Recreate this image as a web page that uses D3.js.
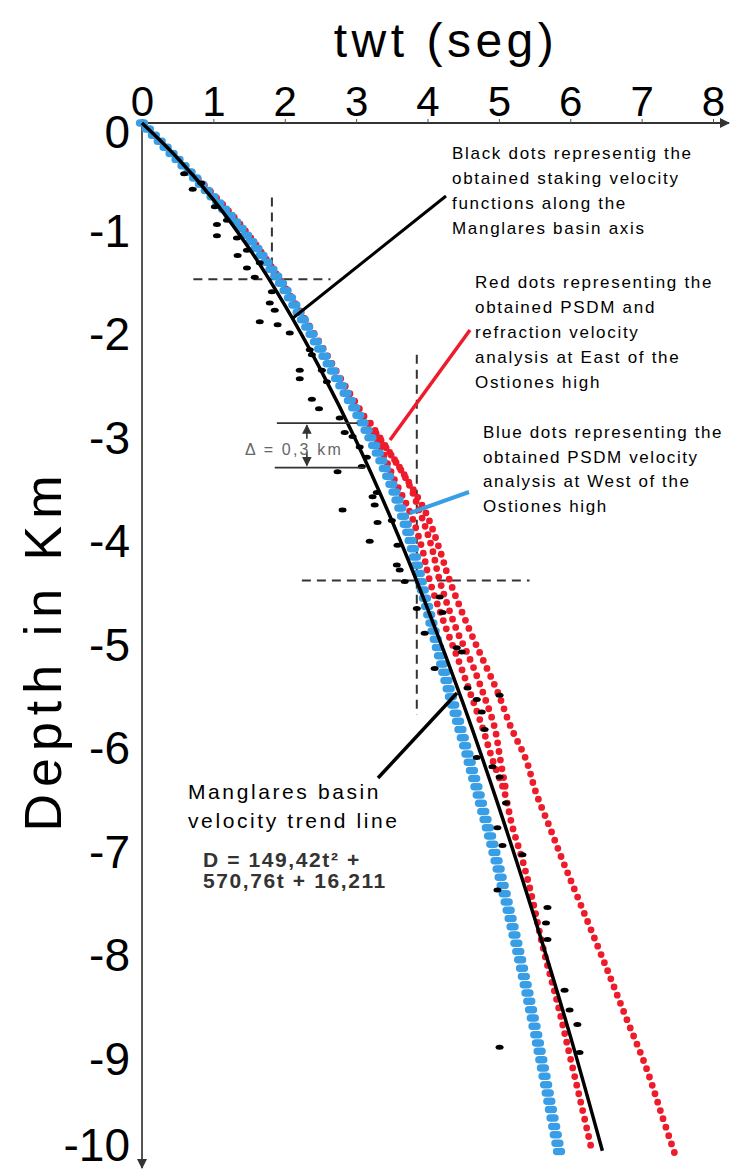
<!DOCTYPE html>
<html>
<head>
<meta charset="utf-8">
<script src="https://cdn.jsdelivr.net/npm/d3@7"></script>
<style>
  body { margin: 0; background: #fff; }
  svg { display: block; }
</style>
</head>
<body>
<svg width="733" height="1173"></svg>
<script>
// axis ticks
const tTicks = [0, 1, 2, 3, 4, 5, 6, 7, 8];
const depthTicks = [0, -1, -2, -3, -4, -5, -6, -7, -8, -9, -10];

// Manglares basin velocity trend line (twt, depth km)
const trendT = [0, 0.5, 1, 1.5, 2, 2.5, 3, 3.5, 4, 4.5, 5, 5.5, 6, 6.45];
const trendD = [0, -0.34, -0.74, -1.21, -1.76, -2.38, -3.07, -3.84, -4.69, -5.61, -6.61, -7.68, -8.82, -9.93];

// blue dots: PSDM West of Ostiones high
const blueD = [0, -0.5, -1, -1.5, -2, -2.5, -3, -3.5, -4, -4.5, -5, -5.5, -6, -6.5, -7, -7.5, -8, -8.5, -9, -9.5, -10];
const blueT = [0, 0.7, 1.36, 1.9, 2.34, 2.76, 3.17, 3.5, 3.75, 3.93, 4.12, 4.31, 4.52, 4.72, 4.92, 5.1, 5.27, 5.43, 5.58, 5.72, 5.86];

// red dots: PSDM + refraction East of Ostiones high (three traces)
const red1D = [0, -1, -2, -2.5, -3, -3.45, -3.77, -4.1, -4.42, -4.9, -5.22, -5.51, -5.84, -6.15, -6.47, -6.8, -7.12, -7.44, -8, -8.5, -9, -9.5, -9.95];
const red1T = [0, 1.4, 2.38, 2.81, 3.25, 3.54, 3.76, 3.92, 4.03, 4.27, 4.45, 4.6, 4.77, 4.91, 5.08, 5.19, 5.33, 5.45, 5.63, 5.82, 5.99, 6.16, 6.31];
const red2D = [-3, -3.45, -3.77, -4.1, -4.42, -4.9, -5.22, -5.51, -5.84, -6.15, -6.45];
const red2T = [3.28, 3.71, 3.9, 4.06, 4.17, 4.41, 4.62, 4.78, 4.94, 5.02, 5.1];
const red3D = [-2.9, -3.13, -3.45, -3.77, -4.1, -4.42, -4.9, -5.22, -5.51, -5.84, -6.15, -6.47, -6.8, -7.12, -7.44, -8.15, -8.64, -9.12, -9.6, -9.95];
const red3T = [3.2, 3.42, 3.72, 3.98, 4.16, 4.31, 4.59, 4.8, 4.99, 5.17, 5.38, 5.52, 5.71, 5.89, 6.08, 6.5, 6.78, 7.06, 7.29, 7.46];

// black dots: stacking velocity functions
const stackT = [0.59, 0.71, 0.83, 1.02, 1.05, 1.05, 1.19, 1.33, 1.34, 1.47, 1.47, 1.65, 1.58, 1.82, 1.79, 1.86,
  1.65, 1.9, 2.07, 2.35, 2.38, 2.21, 2.21, 2.52, 2.59, 2.38, 2.48, 2.77, 2.84, 2.95, 3.05, 3.15, 2.74, 3.08, 3.29, 2.81, 3.23,
  3.26, 3.3, 3.19, 3.5, 3.58, 3.57, 3.61, 3.68, 3.85, 3.96, 4.17, 4.21, 4.41, 4.48,
  4.1, 4.56, 4.69, 5.01, 4.76, 4.8, 4.69, 4.91, 5.01, 5.1, 4.98, 5.05, 5.33, 4.98, 5.68,
  5.66, 5.68, 5.92, 5.99, 6.1, 6.13, 5.01];
const stackD = [-0.49, -0.64, -0.58, -0.81, -0.98, -1.09, -0.94, -1.11, -1.28, -1.23, -1.4, -1.35, -1.49, -1.63, -1.74, -1.81,
  -1.92, -1.95, -2.03, -2.19, -2.24, -2.39, -2.47, -2.39, -2.5, -2.67, -2.76, -2.85, -2.99, -3.03, -3.13, -3.23, -3.37, -3.32, -3.57, -3.74, -3.61,
  -3.69, -3.86, -4.04, -3.84, -4.08, -4.27, -4.32, -4.43, -4.69, -4.93, -4.58, -4.73, -5.07, -5.11,
  -5.27, -5.46, -5.57, -5.53, -5.69, -5.86, -6.13, -6.22, -6.32, -6.57, -6.81, -6.98, -7.07, -7.41, -7.58,
  -7.73, -7.89, -8.38, -8.57, -8.71, -8.98, -8.93];

const svg = d3.select("svg");
const x = d3.scaleLinear().domain([0, 8]).range([142, 713]);
const y = d3.scaleLinear().domain([0, -10]).range([123, 1158]);
const font = "'Liberation Sans', Arial, sans-serif";

const zip = (ts, ds) => ts.map((t, i) => [t, ds[i]]);
const line = d3.line().x(d => x(d[0])).y(d => y(d[1])).curve(d3.curveCatmullRom);

const defs = svg.append("defs");
defs.append("marker").attr("id", "arr").attr("viewBox", "0 0 10 10")
  .attr("refX", 9).attr("refY", 5).attr("markerWidth", 5).attr("markerHeight", 5)
  .attr("orient", "auto").attr("markerUnits", "strokeWidth")
  .append("path").attr("d", "M0,0L10,5L0,10z").attr("fill", "#333");
defs.append("marker").attr("id", "arrs").attr("viewBox", "0 0 10 10")
  .attr("refX", 9).attr("refY", 5).attr("markerWidth", 6).attr("markerHeight", 6)
  .attr("orient", "auto").attr("markerUnits", "strokeWidth")
  .append("path").attr("d", "M0,0L10,5L0,10z").attr("fill", "#333");

// axis lines with arrows
svg.append("line").attr("x1", x(0)).attr("x2", 729).attr("y1", y(0)).attr("y2", y(0))
  .attr("stroke", "#333").attr("stroke-width", 2).attr("marker-end", "url(#arr)");
svg.append("line").attr("x1", x(0)).attr("x2", x(0)).attr("y1", y(0)).attr("y2", 1168)
  .attr("stroke", "#555").attr("stroke-width", 2).attr("marker-end", "url(#arr)");

const xAxis = svg.append("g").attr("transform", `translate(0,${y(0)})`)
  .call(d3.axisTop(x).tickValues(tTicks).tickSize(4).tickPadding(3).tickSizeOuter(0));
xAxis.select(".domain").remove();
xAxis.selectAll("line").attr("stroke", "#555");
xAxis.selectAll("text").attr("font-size", 42).attr("fill", "#000").attr("font-family", font);

const yAxis = svg.append("g").attr("transform", `translate(${x(0)},0)`)
  .call(d3.axisLeft(y).tickValues(depthTicks).tickSize(0).tickPadding(12)
    .tickFormat(d => d === 0 ? "0" : "-" + Math.abs(d)));
yAxis.select(".domain").remove();
yAxis.selectAll("text").attr("font-size", 46).attr("fill", "#000").attr("font-family", font)
  .attr("transform", d => `translate(0,${d === 0 ? 10 : d === -10 ? -12 : 5})`);

// titles
svg.append("text").attr("x", 446).attr("y", 57).attr("text-anchor", "middle")
  .attr("font-size", 48).attr("letter-spacing", 4.5).attr("font-family", font).text("twt (seg)");
svg.append("text").attr("transform", "translate(61,650) rotate(-90)").attr("text-anchor", "middle")
  .attr("font-size", 52).attr("letter-spacing", 7).attr("font-family", font).text("Depth in Km");

// dashed cross lines
const dash = svg.append("g").attr("stroke", "#333").attr("stroke-width", 2).attr("stroke-dasharray", "9,6").attr("fill", "none");
const crosses = [
  [[1.82, -0.72], [1.82, -1.5]], [[0.72, -1.51], [2.64, -1.51]],
  [[3.85, -2.24], [3.85, -5.72]], [[2.24, -4.42], [5.43, -4.42]]
];
crosses.forEach(c => dash.append("path").attr("d", d3.line().x(d => x(d[0])).y(d => y(d[1]))(c)));

// red dots
const reds = [zip(red1T, red1D), zip(red2T, red2D), zip(red3T, red3D)];
svg.append("g").selectAll("path").data(reds).join("path")
  .attr("d", line).attr("fill", "none").attr("stroke", "#ee1c2b")
  .attr("stroke-width", 6.8).attr("stroke-linecap", "round").attr("stroke-dasharray", "0 8.8");

// blue dots (elongated horizontally)
const blue = zip(blueT, blueD);
svg.append("g").selectAll("path").data([-2.4, 0, 2.4]).join("path")
  .attr("transform", d => `translate(${d},0)`)
  .attr("d", line(blue)).attr("fill", "none").attr("stroke", "#3a9ee6")
  .attr("stroke-width", 7.5).attr("stroke-linecap", "round").attr("stroke-dasharray", "0 8.5");

// black stacking dots
svg.append("g").selectAll("ellipse").data(zip(stackT, stackD)).join("ellipse")
  .attr("cx", d => x(d[0])).attr("cy", d => y(d[1])).attr("rx", 4).attr("ry", 2.5).attr("fill", "#000");

// trend line
svg.append("path").attr("d", line(zip(trendT, trendD))).attr("fill", "none")
  .attr("stroke", "#000").attr("stroke-width", 3.5);

// delta annotation
const dg = svg.append("g").attr("stroke", "#333").attr("stroke-width", 1.6);
dg.append("line").attr("x1", x(1.89)).attr("x2", x(3.02)).attr("y1", y(-2.9)).attr("y2", y(-2.9));
dg.append("line").attr("x1", x(1.86)).attr("x2", x(3.12)).attr("y1", y(-3.33)).attr("y2", y(-3.33));
dg.append("line").attr("x1", x(2.31)).attr("x2", x(2.31)).attr("y1", y(-3.05)).attr("y2", y(-2.92)).attr("marker-end", "url(#arrs)");
dg.append("line").attr("x1", x(2.31)).attr("x2", x(2.31)).attr("y1", y(-3.18)).attr("y2", y(-3.31)).attr("marker-end", "url(#arrs)");
svg.append("text").attr("x", 245).attr("y", 455).attr("font-size", 16).attr("letter-spacing", 2.2)
  .attr("fill", "#666").attr("font-family", font).text("\u0394 = 0,3 km");

// pointer lines
svg.append("line").attr("x1", 293).attr("y1", 318).attr("x2", 446).attr("y2", 196).attr("stroke", "#000").attr("stroke-width", 3);
svg.append("line").attr("x1", 390).attr("y1", 440).attr("x2", 470).attr("y2", 330).attr("stroke", "#ee1c2b").attr("stroke-width", 3.5);
svg.append("line").attr("x1", 410).attr("y1", 513).attr("x2", 469).attr("y2", 492).attr("stroke", "#3a9ee6").attr("stroke-width", 4);
svg.append("line").attr("x1", 457).attr("y1", 693).attr("x2", 378).attr("y2", 778).attr("stroke", "#000").attr("stroke-width", 3.5);

// notes
function note(lines, x0, y0, lh, size, ls, opts) {
  const t = svg.append("text").attr("x", x0).attr("y", y0).attr("font-size", size).attr("letter-spacing", ls)
    .attr("font-family", font).attr("fill", opts && opts.fill || "#000")
    .attr("font-weight", opts && opts.bold ? "bold" : "normal");
  lines.forEach((s, i) => t.append("tspan").attr("x", x0).attr("y", y0 + i * lh).text(s));
}
note(["Black dots representig the", "obtained staking velocity", "functions along the", "Manglares basin axis"], 452, 159, 25, 17, 1.7);
note(["Red dots representing the", "obtained PSDM and", "refraction velocity", "analysis at East of the", "Ostiones high"], 475, 288, 25, 17, 1.7);
note(["Blue dots representing the", "obtained PSDM velocity", "analysis at West of the", "Ostiones high"], 483, 438, 24.5, 17, 1.6);
note(["Manglares basin", "velocity trend line"], 188, 799, 29, 21, 2.6);
note(["D = 149,42t\u00b2 +", "570,76t + 16,211"], 203, 867, 21, 21, 1.6, { bold: true, fill: "#333" });
</script>
</body>
</html>
